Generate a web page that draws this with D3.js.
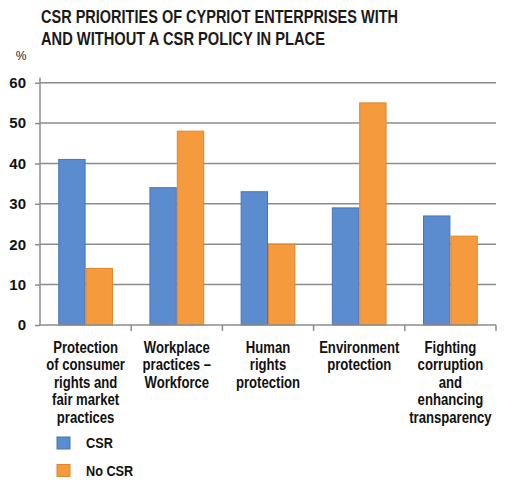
<!DOCTYPE html>
<html>
<head>
<meta charset="utf-8">
<title>CSR priorities</title>
<script src="https://cdn.jsdelivr.net/npm/d3@7"></script>
<style>
  body { margin: 0; background: #fff; }
</style>
</head>
<body>
<div id="chart"></div>
<script>
// data
const categories = [
  ["Protection", "of consumer", "rights and", "fair market", "practices"],
  ["Workplace", "practices –", "Workforce"],
  ["Human", "rights", "protection"],
  ["Environment", "protection"],
  ["Fighting", "corruption", "and", "enhancing", "transparency"]
];
const seriesNames = ["CSR", "No CSR"];
const csr = [41, 34, 33, 29, 27];
const noCsr = [14, 48, 20, 55, 22];
const yTicks = [0, 10, 20, 30, 40, 50, 60];
const titleLines = ["CSR PRIORITIES OF CYPRIOT ENTERPRISES WITH", "AND WITHOUT A CSR POLICY IN PLACE"];

const width = 511, height = 495;
const margin = {top: 82.7, right: 15, bottom: 170, left: 40};
const colors = {fill: ["#5b8cd0", "#f59a3d"], stroke: ["#4973b8", "#e08629"]};
const narrow = "'Liberation Sans', Arial, sans-serif";

const svg = d3.select("#chart").append("svg")
    .attr("width", width)
    .attr("height", height);

// title
svg.append("g")
    .attr("font-family", narrow)
    .attr("font-weight", "bold")
    .attr("font-size", 17.5)
    .attr("fill", "#1a1a1a")
  .selectAll("text")
  .data(titleLines)
  .join("text")
    .attr("x", 41)
    .attr("y", (d, i) => 22.5 + i * 22)
    .attr("textLength", (d, i) => i === 0 ? 357 : 284)
    .attr("lengthAdjust", "spacingAndGlyphs")
    .text(d => d);

const idx = d3.range(categories.length);
const x = d3.scaleBand()
    .domain(idx)
    .range([margin.left, width - margin.right])
    .paddingInner(0.4)
    .paddingOuter(0.2);
// outer band for category ticks
const xOuter = d3.scaleBand()
    .domain(idx)
    .range([margin.left, width - margin.right]);
const x1 = d3.scaleBand()
    .domain([0, 1])
    .range([0, x.bandwidth()]);
const y = d3.scaleLinear()
    .domain([0, 60])
    .range([325, margin.top]);

// gridlines
svg.append("g")
    .attr("stroke", "#8c8c8c")
    .attr("stroke-width", 1.5)
  .selectAll("line")
  .data(yTicks.filter(d => d > 0))
  .join("line")
    .attr("x1", margin.left)
    .attr("x2", width - margin.right)
    .attr("y1", d => y(d))
    .attr("y2", d => y(d));

// bars
const table = idx.map(i => [csr[i], noCsr[i]]);
svg.append("g")
  .selectAll("g")
  .data(table)
  .join("g")
    .attr("transform", (d, i) => `translate(${x(i)},0)`)
  .selectAll("rect")
  .data(d => d)
  .join("rect")
    .attr("x", (d, j) => x1(j) + 0.5)
    .attr("y", d => y(d))
    .attr("width", x1.bandwidth() - 1)
    .attr("height", d => y(0) - y(d))
    .attr("fill", (d, j) => colors.fill[j])
    .attr("stroke", (d, j) => colors.stroke[j])
    .attr("stroke-width", 1);

// y axis
const yAxis = svg.append("g")
    .attr("transform", `translate(${margin.left},0)`)
    .call(d3.axisLeft(y).tickValues(yTicks).tickSize(5).tickPadding(9));
yAxis.select(".domain").attr("stroke", "#8c8c8c").attr("stroke-width", 1.5)
    .attr("d", `M0,${y(60) - 5}V${y(0)}`);
yAxis.selectAll(".tick line").attr("stroke", "#8c8c8c").attr("stroke-width", 1.5);
yAxis.selectAll(".tick text")
    .attr("font-family", "'Liberation Sans', Arial, sans-serif")
    .attr("font-weight", "bold")
    .attr("font-size", 15)
    .attr("fill", "#111");

svg.append("text")
    .attr("x", 21)
    .attr("y", 60)
    .attr("text-anchor", "middle")
    .attr("font-family", narrow)
    .attr("font-size", 12)
    .attr("fill", "#222")
    .text("%");

// x axis line and category ticks
const xAxis = svg.append("g")
    .attr("transform", `translate(0,${y(0)})`)
    .call(d3.axisBottom(xOuter).tickSize(0).tickFormat(""));
xAxis.select(".domain").attr("stroke", "#8c8c8c").attr("stroke-width", 1.5)
    .attr("d", `M${margin.left},0H${width - margin.right}`);
svg.append("g")
    .attr("stroke", "#8c8c8c")
    .attr("stroke-width", 1.5)
  .selectAll("line")
  .data(idx.map(i => xOuter(i) + xOuter.bandwidth()))
  .join("line")
    .attr("x1", d => d)
    .attr("x2", d => d)
    .attr("y1", y(0))
    .attr("y2", y(0) + 6);

// category labels (narrowed by a horizontal squeeze)
svg.append("g")
    .attr("font-family", narrow)
    .attr("font-weight", "bold")
    .attr("font-size", 16)
    .attr("fill", "#111")
    .attr("text-anchor", "middle")
  .selectAll("text")
  .data(categories)
  .join("text")
    .attr("transform", (d, i) => `translate(${xOuter(i) + xOuter.bandwidth() / 2},352.5) scale(0.82,1)`)
  .selectAll("tspan")
  .data(d => d)
  .join("tspan")
    .attr("x", 0)
    .attr("y", (d, i) => i * 17.6)
    .text(d => d);

// legend
const legend = svg.append("g")
    .selectAll("g")
    .data(seriesNames)
    .join("g")
    .attr("transform", (d, i) => `translate(57,${437 + i * 27.5})`);
legend.append("rect")
    .attr("width", 13)
    .attr("height", 12)
    .attr("fill", (d, i) => colors.fill[i])
    .attr("stroke", (d, i) => colors.stroke[i]);
legend.append("text")
    .attr("transform", "translate(29,6) scale(0.82,1)")
    .attr("dy", "0.35em")
    .attr("font-family", narrow)
    .attr("font-weight", "bold")
    .attr("font-size", 15.5)
    .attr("fill", "#111")
    .text(d => d);
</script>
</body>
</html>
